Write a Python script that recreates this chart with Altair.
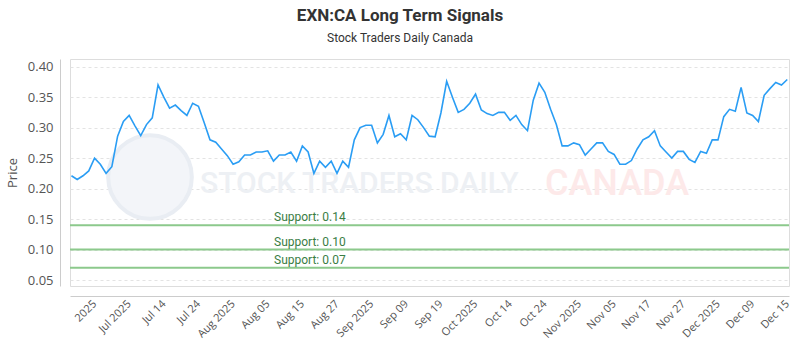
import altair as alt
import pandas as pd

# ---- data ----
prices = [
    0.221, 0.215, 0.221, 0.229, 0.250, 0.240, 0.225, 0.236, 0.286, 0.310,
    0.320, 0.303, 0.287, 0.305, 0.316, 0.370, 0.350, 0.332, 0.337, 0.328,
    0.320, 0.340, 0.335, 0.308, 0.280, 0.276, 0.265, 0.254, 0.240, 0.244,
    0.255, 0.255,
    0.260, 0.260, 0.262, 0.245, 0.255, 0.255, 0.260, 0.245, 0.270, 0.260,
    0.225, 0.245, 0.235, 0.245, 0.225, 0.245, 0.235, 0.280, 0.300, 0.304,
    0.304, 0.275, 0.289, 0.320, 0.285, 0.290, 0.280, 0.320, 0.313, 0.300,
    0.286,
    0.285, 0.324, 0.376, 0.350, 0.325, 0.330, 0.340, 0.355, 0.329, 0.323,
    0.320, 0.325, 0.325, 0.312, 0.320, 0.305, 0.295, 0.345, 0.373, 0.358,
    0.330, 0.305, 0.270, 0.270, 0.275, 0.272, 0.255, 0.265, 0.275, 0.275,
    0.261,
    0.256, 0.240, 0.240, 0.246, 0.265, 0.280, 0.285, 0.295, 0.270, 0.260,
    0.250, 0.261, 0.261, 0.248, 0.243, 0.261, 0.258, 0.280, 0.280, 0.318,
    0.330, 0.327, 0.366, 0.324, 0.320, 0.310, 0.353, 0.364, 0.374, 0.370,
    0.379,
]
tick_labels = ["2025", "Jul 2025", "Jul 14", "Jul 24", "Aug 2025", "Aug 05",
               "Aug 15", "Aug 27", "Sep 2025", "Sep 09", "Sep 19", "Oct 2025",
               "Oct 14", "Oct 24", "Nov 2025", "Nov 05", "Nov 17", "Nov 27",
               "Dec 2025", "Dec 09", "Dec 15"]
tick_first = 4
tick_step = 6
y_ticks = [0.05, 0.10, 0.15, 0.20, 0.25, 0.30, 0.35, 0.40]
support_levels = [0.14, 0.10, 0.07]
support_labels = ["Support: 0.14", "Support: 0.10", "Support: 0.07"]

title_text = "EXN:CA Long Term Signals"
subtitle_text = "Stock Traders Daily Canada"

# ---- tables ----
n = len(prices)
df = pd.DataFrame({"idx": list(range(n)), "price": prices})
sup = pd.DataFrame({"level": support_levels, "label": support_labels})
tick_values = [tick_first + tick_step * k for k in range(len(tick_labels))]
label_arr = "[" + ",".join("'" + s + "'" for s in tick_labels) + "]"
label_expr = f"{label_arr}[round((datum.value - {tick_first}) / {tick_step})]"

x_scale = alt.Scale(domain=[-0.25, n - 1 + 0.3], nice=False, zero=False)
y_scale = alt.Scale(domain=[0.0402, 0.4126], nice=False, zero=False)

x_axis = alt.Axis(values=tick_values, labelExpr=label_expr, labelAngle=-45,
                  labelAlign="right", labelBaseline="middle", labelPadding=6,
                  labelFontSize=11, labelColor="#555", labelFont="Open Sans",
                  ticks=False, grid=False, domain=True, domainColor="#ccc",
                  offset=10, title=None, labelOverlap=False)
y_axis = alt.Axis(values=y_ticks, format=".2f", labelFontSize=13,
                  labelColor="#555", labelFont="Open Sans", labelPadding=7,
                  labelOverlap=False, ticks=False,
                  grid=True, gridDash=[3, 3], gridColor="#e3e3e3",
                  domain=True, domainColor="#ccc", offset=10,
                  title="Price", titleFontSize=13, titleColor="#555",
                  titleFont="Open Sans", titleFontWeight="normal",
                  titlePadding=8)

# ---- watermark ----
wm = pd.DataFrame({"t": ["wm"]})
logo = alt.Chart(wm).mark_point(shape="circle", filled=True, color="#f3f5f9",
                                opacity=1, size=7000,
                                stroke="#e9edf3", strokeWidth=4).encode(
    x=alt.value(80), y=alt.value(118))
wm_text1 = alt.Chart(wm).mark_text(text="STOCK TRADERS DAILY", font="Roboto",
                                   fontSize=30, fontWeight=500, color="#edf0f4",
                                   align="left", baseline="alphabetic").encode(
    x=alt.value(130), y=alt.value(134))
wm_text2 = alt.Chart(wm).mark_text(text="CANADA", font="Roboto", fontSize=36,
                                   fontWeight=500, color="#fde9e9",
                                   align="left", baseline="alphabetic").encode(
    x=alt.value(475), y=alt.value(136))

# ---- data layers ----
line = alt.Chart(df).mark_line(color="#2a9df4", strokeWidth=1.6).encode(
    x=alt.X("idx:Q", scale=x_scale, axis=x_axis),
    y=alt.Y("price:Q", scale=y_scale, axis=y_axis),
)
rules = alt.Chart(sup).mark_rule(color="#8cc98c", strokeWidth=2).encode(
    y=alt.Y("level:Q", scale=y_scale, axis=y_axis),
)
sup_text = alt.Chart(sup).mark_text(align="left", baseline="alphabetic",
                                    dy=-4, fontSize=12, font="Roboto",
                                    color="#3a7d44").encode(
    x=alt.value(204),
    y=alt.Y("level:Q", scale=y_scale, axis=y_axis),
    text="label:N",
)

chart = alt.layer(logo, wm_text1, wm_text2, rules, line, sup_text).properties(
    width=719, height=227,
    autosize=alt.AutoSizeParams(type="none"),
    padding={"left": 70, "top": 59, "right": 11, "bottom": 64},
    title=alt.TitleParams(text=title_text, subtitle=subtitle_text,
                          anchor="middle", dx=-29.5, fontSize=17,
                          font="Roboto", fontWeight="bold", color="#333",
                          subtitleFontSize=12, subtitleFont="Roboto",
                          subtitleColor="#333", subtitlePadding=8, offset=14),
).configure_view(stroke="#888", strokeWidth=1).configure(
    background="white"
).configure_axis(labelOverlap=False)

chart.save("out.html", embed_options={"renderer": "svg", "actions": False})
